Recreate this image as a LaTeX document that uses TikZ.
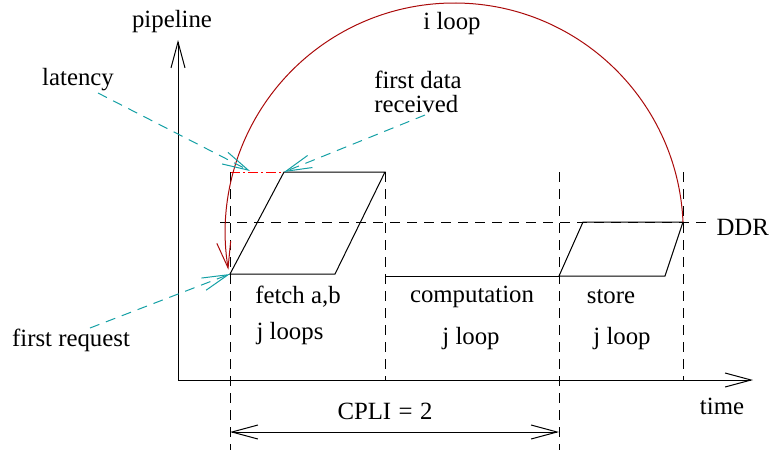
\documentclass[tikz,border=0pt]{standalone}
\usepackage{fontspec}
\setmainfont{Liberation Serif}
\usepackage{xcolor}
\usetikzlibrary{arrows.meta, positioning}

\definecolor{hintcyan}{RGB}{20,160,165}
\definecolor{arcred}{RGB}{170,10,10}

\begin{document}
\begin{tikzpicture}[x=0.5pt, y=-0.5pt, line width=0.5pt,
    >={Straight Barb[length=13pt,width=7pt]},
    every node/.style={font=\fontsize{12.4}{14.5}\selectfont, inner sep=0pt},
    guide/.style={dashed, dash pattern=on 5pt off 3.5pt},
    hint/.style={hintcyan, dashed, dash pattern=on 5pt off 3.5pt,
        -{Straight Barb[length=13pt,width=6.5pt]}}]
    \useasboundingbox (0,0) rectangle (769,450);
    % Axes
    \coordinate (O) at (178,380);
    \coordinate (yTip) at (178,40);
    \coordinate (xTip) at (753,380);
    \draw[->] (O) -- (yTip);
    \draw[->] (O) -- (xTip);
    \node (pipeline) at (172,22) {pipeline};
    \node (time) at (722,406) {time};
    % Fetch, computation and store phases
    \coordinate (f1) at (230,274);
    \coordinate (f2) at (335,274);
    \coordinate (f3) at (385,172);
    \coordinate (f4) at (284,172);
    \coordinate (fTop) at (230,172);
    \coordinate (c1) at (385,276);
    \coordinate (s1) at (559,276);
    \coordinate (s2) at (583,222);
    \coordinate (s3) at (683,222);
    \coordinate (s4) at (665,276);
    \draw (f1) -- (f2) -- (f3) -- (f4) -- cycle;
    \draw (c1) -- (s1);
    \draw (s1) -- (s2) -- (s3) -- (s4) -- cycle;
    \draw[red, dash pattern=on 5pt off 1.5pt on 1pt off 1.5pt] (fTop) -- (f4);
    % Phase boundaries
    \coordinate (b1) at (230,450);
    \coordinate (b2) at (385,380);
    \coordinate (b3t) at (559,172);
    \coordinate (b3) at (559,450);
    \coordinate (b4t) at (683,172);
    \coordinate (b4) at (683,380);
    \draw[guide] (fTop) -- (b1);
    \draw[guide] (f3) -- (b2);
    \draw[guide] (b3t) -- (b3);
    \draw[guide] (b4t) -- (b4);
    % DDR level
    \coordinate (ddrL) at (220,222);
    \coordinate (ddrR) at (708,222);
    \draw[guide] (ddrL) -- (ddrR);
    \node[anchor=west] (ddr) at (716,227) {DDR};
    % Phase labels
    \node (fetch) at (298,297) {fetch a,b};
    \node (fetchJ) at (290,334) {j loops};
    \node (comp) at (472,297) {computation};
    \node (compJ) at (471,339) {j loop};
    \node (store) at (611,297) {store};
    \node (storeJ) at (622,339) {j loop};
    % CPLI
    \coordinate (cpliL) at (230,432);
    \coordinate (cpliR) at (559,432);
    \draw[<->] (cpliL) -- (cpliR);
    \node (cpli) at (385,411) {CPLI\hspace{0.3em}=\hspace{0.3em}2};
    % i loop
    \draw[arcred, ->] (s3) arc[start angle=-2.5, end angle=-189.5, radius=229];
    \node (iloop) at (452,24) {i loop};
    % Hints
    \node (latency) at (78,80) {latency};
    \node[align=left] (firstdata) at (418,92) {first data\\[-2.5pt]received};
    \node (firstreq) at (71,340) {first request};
    \coordinate (latS) at (98,93);
    \coordinate (latE) at (250,171);
    \coordinate (fdS) at (425,115);
    \coordinate (frS) at (90,328);
    \draw[hint] (latS) -- (latE);
    \draw[hint] (fdS) -- (f4);
    \draw[hint] (frS) -- (f1);
\end{tikzpicture}
\end{document}
